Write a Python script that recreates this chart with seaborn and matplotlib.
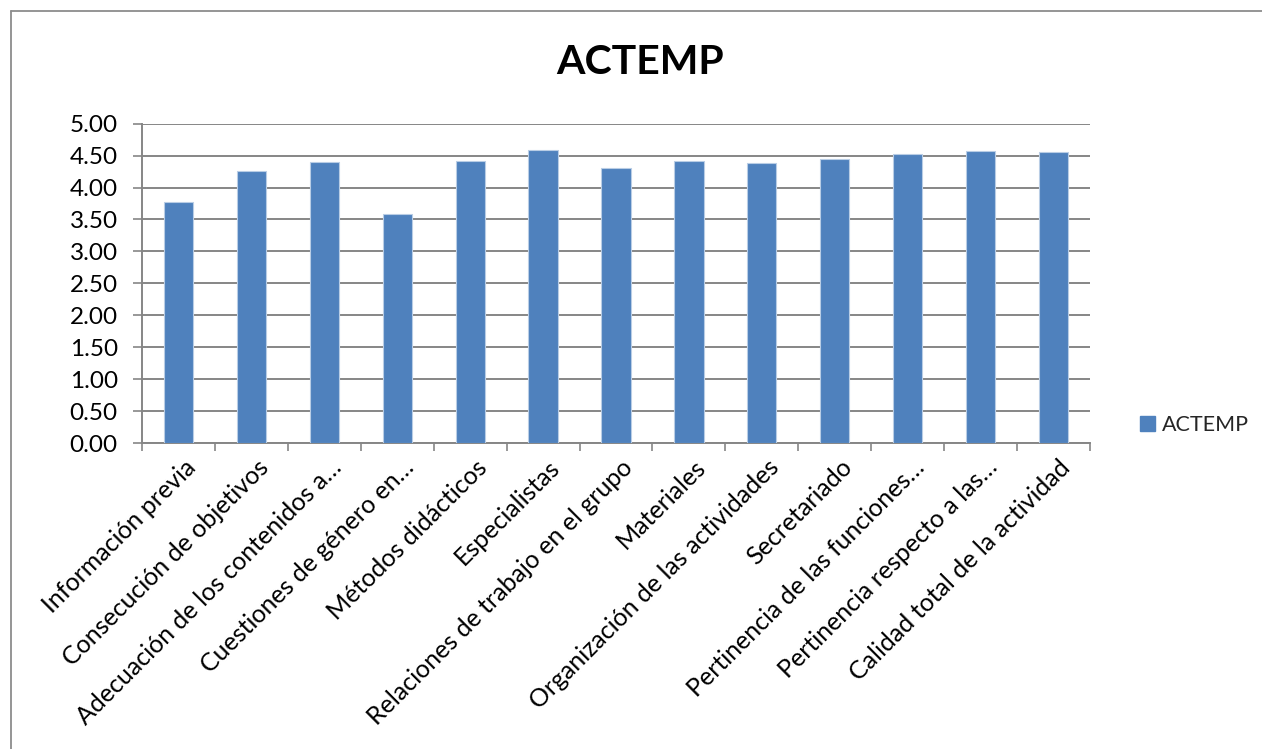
import numpy as np
import matplotlib
matplotlib.use("Agg")
import matplotlib.pyplot as plt
import matplotlib.transforms as mtransforms
from matplotlib.lines import Line2D
from matplotlib.patches import Patch
import seaborn as sns

categories = [
    "Información previa",
    "Consecución de objetivos",
    "Adecuación de los contenidos a…",
    "Cuestiones de género en…",
    "Métodos didácticos",
    "Especialistas",
    "Relaciones de trabajo en el grupo",
    "Materiales",
    "Organización de las actividades",
    "Secretariado",
    "Pertinencia de las funciones…",
    "Pertinencia respecto a las…",
    "Calidad total de la actividad",
]
actemp = [3.77, 4.26, 4.40, 3.58, 4.41, 4.59, 4.30, 4.41, 4.38, 4.44, 4.53, 4.57, 4.55]
y_ticks = [0.0, 0.5, 1.0, 1.5, 2.0, 2.5, 3.0, 3.5, 4.0, 4.5, 5.0]
series_name = "ACTEMP"

sns.set_theme(style="white")
plt.rcParams["font.family"] = ["Lato", "DejaVu Sans"]

W, H = 1262, 749
fig = plt.figure(figsize=(W / 100, H / 100), dpi=100)
ax = fig.add_axes([142 / W, 1 - 443 / H, (1090 - 142) / W, (443 - 123.7) / H])

bar_color = "#4F81BD"
grid_color = "#868686"

sns.barplot(x=categories, y=actemp, order=categories, color=bar_color,
            width=0.4, saturation=1, edgecolor="#b9cde5", linewidth=0.8,
            ax=ax, zorder=3)

ax.set_xlim(-0.5, len(categories) - 0.5)
ax.set_ylim(0, 5)
ax.set_yticks(y_ticks)
ax.set_yticklabels([f"{v:.2f}" for v in y_ticks], fontsize=17.5, color="black")
ax.yaxis.grid(True, color=grid_color, linewidth=1.4, zorder=0)
ax.xaxis.grid(False)
ax.set_axisbelow(True)

for side in ("top", "right"):
    ax.spines[side].set_visible(False)
for side in ("left", "bottom"):
    ax.spines[side].set_color(grid_color)
    ax.spines[side].set_linewidth(1.4)

ax.tick_params(axis="y", which="major", left=True, length=6.5, width=1.2,
               color=grid_color, pad=11)
ax.set_xticks(np.arange(len(categories)))
ax.set_xticklabels(categories, rotation=45, ha="right", va="top",
                   rotation_mode="anchor", fontsize=18, color="black")
ax.tick_params(axis="x", which="major", bottom=False, length=0, pad=9)
ax.set_xticks(np.arange(-0.5, len(categories), 1.0), minor=True)
ax.tick_params(axis="x", which="minor", bottom=True, length=5.5, width=1.2,
               color=grid_color)
shift = mtransforms.ScaledTranslation(5 / 100, 0, fig.dpi_scale_trans)
for lbl in ax.get_xticklabels():
    lbl.set_transform(lbl.get_transform() + shift)
ax.set_xlabel("")
ax.set_ylabel("")

fig.text(640 / W, 1 - 63 / H, series_name, ha="center", va="center",
         fontsize=29.5, fontweight="bold", color="black")

handle = Patch(facecolor=bar_color, edgecolor=bar_color)
fig.legend([handle], [series_name], loc="center left",
           bbox_to_anchor=(1131 / W, 1 - 425 / H), frameon=False,
           fontsize=15.5, handlelength=0.7, handleheight=0.7,
           handletextpad=0.35, borderaxespad=0)

# chart frame
fig.add_artist(Line2D([10.5 / W, 10.5 / W], [1 - 11 / H, 0], color="#8c8c8c",
                      linewidth=1.3, transform=fig.transFigure))
fig.add_artist(Line2D([10.5 / W, 1], [1 - 11 / H, 1 - 11 / H], color="#8c8c8c",
                      linewidth=1.3, transform=fig.transFigure))

fig.savefig("out.png", dpi=100)
